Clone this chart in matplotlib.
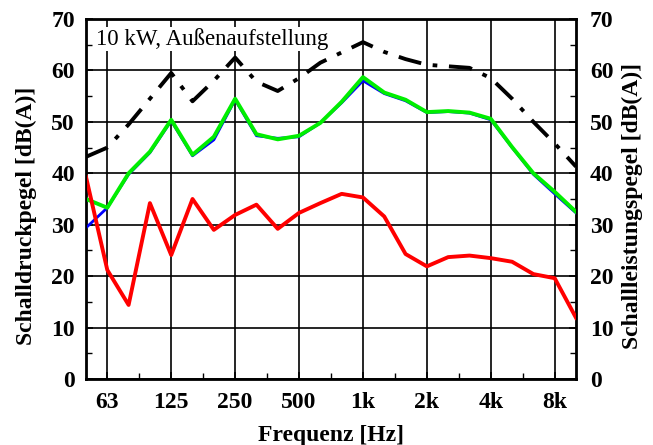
import numpy as np
import matplotlib
matplotlib.use("Agg")
import matplotlib.pyplot as plt
from matplotlib.ticker import FixedLocator, MultipleLocator, NullFormatter

plt.rcParams['font.family'] = ['Liberation Serif', 'DejaVu Serif']

# third-octave bands 50 Hz .. 10 kHz (index relative to 1 kHz)
band_idx = np.arange(-13, 11)
bands = ['50', '63', '80', '100', '125', '160', '200', '250', '315', '400', '500', '630',
         '800', '1k', '1.25k', '1.6k', '2k', '2.5k', '3.15k', '4k', '5k', '6.3k', '8k', '10k']

# Schallleistungspegel (black dash-dot)
lw_level = [43.2, 45.0, 49.5, 54.5, 59.5, 54.0, 58.0, 62.5, 57.8, 56.0, 58.5, 61.5,
            63.5, 65.5, 63.6, 62.2, 61.1, 60.8, 60.5, 58.5, 54.5, 50.0, 45.8, 41.3]
# Schalldruckpegel, blue / green
blue = [29.4, 33.3, 39.8, 44.0, 50.2, 43.4, 46.5, 54.3, 47.3, 46.8, 47.1, 49.8,
        53.7, 58.0, 55.5, 54.1, 51.8, 52.0, 51.7, 50.4, 45.0, 39.8, 36.0, 32.3]
green = [35.0, 33.3, 40.0, 44.2, 50.4, 43.6, 47.1, 54.5, 47.6, 46.6, 47.3, 49.8,
         53.9, 58.7, 55.7, 54.3, 51.9, 52.1, 51.8, 50.6, 45.1, 40.0, 36.4, 32.5]
# red
red = [39.3, 21.2, 14.4, 34.2, 24.1, 35.0, 29.0, 31.9, 33.9, 29.2, 32.3, 34.2,
       36.0, 35.3, 31.6, 24.3, 21.9, 23.7, 24.0, 23.5, 22.8, 20.4, 19.6, 11.9]

tick_idx = [-12, -9, -6, -3, 0, 3, 6, 9]
tick_labels = ['63', '125', '250', '500', '1k', '2k', '4k', '8k']

freq = 1000 * 2.0 ** (band_idx / 3)
FS = 17

fig = plt.figure(figsize=(6.53, 4.45), dpi=100)
ax = fig.add_axes([86 / 653, 66 / 445, 490 / 653, 360 / 445])

ax.plot(freq, lw_level, color='black', lw=2.8, dashes=(6, 3, 1.2, 3), zorder=3)
ax.plot(freq, blue, color='#0000ff', lw=2.0, zorder=4)
ax.plot(freq, green, color='#00ee00', lw=2.8, zorder=5)
ax.plot(freq, red, color='#ff0000', lw=2.8, zorder=5)

ax.set_xscale('log')
ax.set_xlim(1000 * 2.0 ** (-13 / 3), 1000 * 2.0 ** (10 / 3))
ax.set_ylim(0, 70)

xt = [1000 * 2.0 ** (k / 3) for k in tick_idx]
ax.xaxis.set_major_locator(FixedLocator(xt))
ax.set_xticklabels(tick_labels)
ax.xaxis.set_minor_locator(FixedLocator([1000 * 2.0 ** ((k + 1.5) / 3) for k in tick_idx[:-1]] +
                                        [1000 * 2.0 ** ((-12 - 1.5) / 3)]))
ax.xaxis.set_minor_formatter(NullFormatter())
ax.yaxis.set_major_locator(MultipleLocator(10))
ax.yaxis.set_minor_locator(MultipleLocator(5))
ax.grid(True, which='major', color='black', lw=1.2)
ax.set_axisbelow(True)

ax.tick_params(which='both', direction='in', top=False, right=True, labelsize=FS)
ax.tick_params(axis='x', pad=9)
ax.tick_params(axis='y', pad=8)
ax.tick_params(which='major', length=5, width=1.2)
ax.tick_params(which='minor', length=4, width=1.0)
for lab in ax.get_xticklabels() + ax.get_yticklabels():
    lab.set_fontweight('bold')
for s in ax.spines.values():
    s.set_linewidth(2)

ax2 = ax.twinx()
ax2.set_ylim(0, 70)
ax2.yaxis.set_major_locator(MultipleLocator(10))
ax2.yaxis.set_minor_locator(MultipleLocator(5))
ax2.tick_params(which='both', direction='in', labelsize=FS, pad=10)
ax2.tick_params(which='major', length=5, width=1.2)
ax2.tick_params(which='minor', length=4, width=1.0)
for lab in ax2.get_yticklabels():
    lab.set_fontweight('bold')

ax.set_xlabel('Frequenz [Hz]', fontsize=FS, fontweight='bold', labelpad=9)
ax.set_ylabel('Schalldruckpegel [dB(A)]', fontsize=FS, fontweight='bold')
ax2.set_ylabel('Schallleistungspegel [dB(A)]', fontsize=FS, fontweight='bold')
ax.yaxis.set_label_coords(-0.1, 0.453)
ax2.yaxis.set_label_coords(1.094, 0.481)

ax.text(0.02, 0.975, '10 kW, Außenaufstellung', transform=ax.transAxes, fontsize=16.5,
        va='top', ha='left', zorder=6,
        bbox=dict(facecolor='white', edgecolor='none', pad=1))

fig.savefig('out.png', dpi=100)
